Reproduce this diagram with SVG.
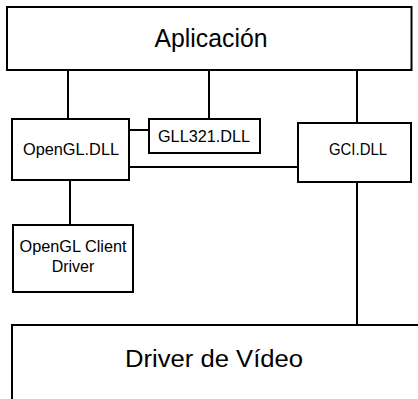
<svg xmlns="http://www.w3.org/2000/svg" width="418" height="399" viewBox="0 0 418 399">
<style>
.box{fill:#fff;stroke:#000;stroke-width:2}
.ln{stroke:#000;stroke-width:2;fill:none}
text{font-family:"Liberation Sans",Arial,sans-serif;fill:#000;text-anchor:middle}
</style>
<rect width="418" height="399" fill="#fff"/>
<g id="connectors">
<line class="ln" x1="68" y1="69" x2="68" y2="119"/>
<line class="ln" x1="209" y1="69" x2="209" y2="119"/>
<line class="ln" x1="357" y1="69" x2="357" y2="123"/>
<line class="ln" x1="129" y1="130" x2="149" y2="130"/>
<line class="ln" x1="129" y1="167" x2="298" y2="167"/>
<line class="ln" x1="70" y1="180" x2="70" y2="225"/>
<line class="ln" x1="357" y1="182" x2="357" y2="325"/>
</g>
<g id="aplicacion">
<rect class="box" x="7" y="7" width="404.5" height="63"/>
<text x="211" y="47" font-size="25" textLength="113" lengthAdjust="spacingAndGlyphs">Aplicación</text>
</g>
<g id="opengl-dll">
<rect class="box" x="12" y="119" width="117" height="61"/>
<text x="71" y="155" font-size="16" textLength="96" lengthAdjust="spacingAndGlyphs">OpenGL.DLL</text>
</g>
<g id="gll321-dll">
<rect class="box" x="149" y="119" width="111" height="34"/>
<text x="204" y="142" font-size="16" textLength="92" lengthAdjust="spacingAndGlyphs">GLL321.DLL</text>
</g>
<g id="gci-dll">
<rect class="box" x="298" y="123" width="113" height="59"/>
<text x="358" y="155" font-size="16" textLength="58" lengthAdjust="spacingAndGlyphs">GCI.DLL</text>
</g>
<g id="opengl-client-driver">
<rect class="box" x="13" y="225" width="120" height="67"/>
<text x="73" y="252" font-size="16" textLength="107" lengthAdjust="spacingAndGlyphs">OpenGL Client</text>
<text x="73" y="272" font-size="16">Driver</text>
</g>
<g id="driver-video">
<rect class="box" x="12" y="325" width="420" height="90"/>
<text x="214" y="367" font-size="23" textLength="178" lengthAdjust="spacingAndGlyphs">Driver de Vídeo</text>
</g>
</svg>
